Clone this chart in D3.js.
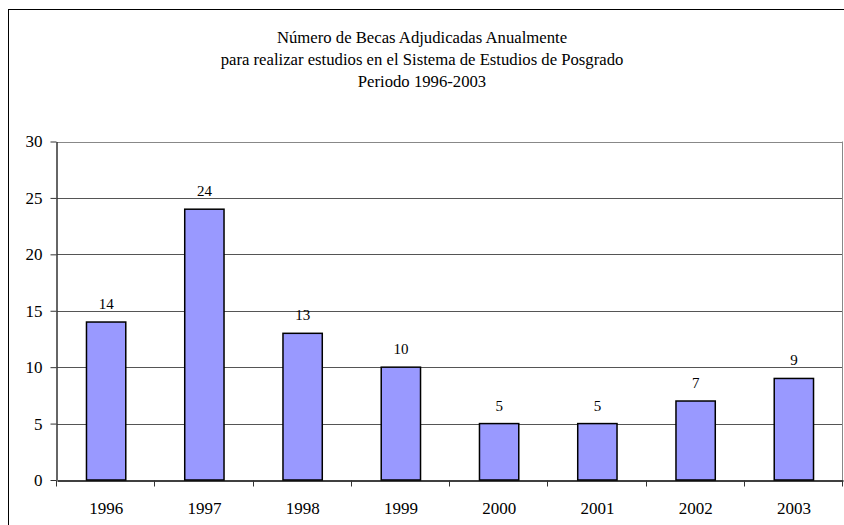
<!DOCTYPE html>
<html>
<head>
<meta charset="utf-8">
<script src="https://cdn.jsdelivr.net/npm/d3@7"></script>
<style>
  body { margin: 0; background: #fff; }
  svg text { font-family: "Liberation Serif", "Times New Roman", serif; fill: #000; }
</style>
</head>
<body>
<div id="chart"></div>
<script>
// Data
const years = ["1996", "1997", "1998", "1999", "2000", "2001", "2002", "2003"];
const becas = [14, 24, 13, 10, 5, 5, 7, 9];
const yTicks = [0, 5, 10, 15, 20, 25, 30];
const titleLines = [
  "Número de Becas Adjudicadas Anualmente",
  "para realizar estudios en el Sistema de Estudios de Posgrado",
  "Periodo 1996-2003"
];

const width = 844;
const height = 525;
const margin = { top: 141.5, right: 1, left: 57, bottom: 45 };
const plotBottom = height - margin.bottom;
const plotRight = width - margin.right;

const svg = d3.select("#chart").append("svg")
  .attr("width", width)
  .attr("height", height);

// outer chart frame (cropped on right and bottom)
svg.append("rect")
  .attr("x", 8.5).attr("y", 9.5)
  .attr("width", 900).attr("height", 600)
  .attr("fill", "none")
  .attr("stroke", "#000")
  .attr("stroke-width", 1);

// title
svg.append("g").selectAll("text")
  .data(titleLines)
  .join("text")
  .attr("x", 422)
  .attr("y", (d, i) => 43 + i * 22)
  .attr("text-anchor", "middle")
  .style("font-size", "16.7px")
  .text(d => d);

const x = d3.scaleBand()
  .domain(years)
  .range([margin.left, plotRight])
  .paddingInner(0.6)
  .paddingOuter(0.3);

const y = d3.scaleLinear()
  .domain([0, 30])
  .range([plotBottom, margin.top]);

// gridlines
svg.append("g")
  .selectAll("line")
  .data(yTicks.filter(d => d > 0))
  .join("line")
  .attr("x1", margin.left).attr("x2", plotRight)
  .attr("y1", d => Math.round(y(d)) + 0.5)
  .attr("y2", d => Math.round(y(d)) + 0.5)
  .attr("stroke", d => d === 30 ? "#888" : "#555")
  .attr("stroke-width", 1);

// right border of plot area
svg.append("line")
  .attr("x1", plotRight - 0.5).attr("x2", plotRight - 0.5)
  .attr("y1", margin.top).attr("y2", plotBottom)
  .attr("stroke", "#888");

// bars
svg.append("g")
  .selectAll("rect")
  .data(years.map((yr, i) => ({ yr, v: becas[i] })))
  .join("rect")
  .attr("x", d => x(d.yr))
  .attr("y", d => y(d.v))
  .attr("width", x.bandwidth())
  .attr("height", d => plotBottom - y(d.v))
  .attr("fill", "#9999FF")
  .attr("stroke", "#000")
  .attr("stroke-width", 1.5);

// value labels
svg.append("g")
  .selectAll("text")
  .data(years.map((yr, i) => ({ yr, v: becas[i] })))
  .join("text")
  .attr("x", d => x(d.yr) + x.bandwidth() / 2)
  .attr("y", d => y(d.v) - 13)
  .attr("text-anchor", "middle")
  .style("font-size", "15px")
  .text(d => d.v);

// y axis
const yAxis = svg.append("g")
  .attr("transform", `translate(${margin.left - 0.5},0)`)
  .call(d3.axisLeft(y).tickValues(yTicks).tickSize(6).tickSizeOuter(0).tickPadding(8));
yAxis.select(".domain").attr("stroke", "#333").attr("stroke-width", 1.5);
yAxis.selectAll(".tick line").attr("stroke", "#333");
yAxis.selectAll(".tick text")
  .style("font-size", "17px")
  .style("font-family", "'Liberation Serif', serif");

// x axis
const xAxis = svg.append("g")
  .attr("transform", `translate(0,${plotBottom + 0.5})`)
  .call(d3.axisBottom(x).tickSize(0).tickSizeOuter(0).tickPadding(21));
xAxis.select(".domain").attr("stroke", "#000").attr("stroke-width", 1.5);
xAxis.selectAll(".tick text")
  .style("font-size", "17px")
  .style("font-family", "'Liberation Serif', serif");

// category boundary ticks
xAxis.append("g")
  .selectAll("line")
  .data(d3.range(years.length + 1))
  .join("line")
  .attr("x1", i => Math.round(margin.left + i * x.step()) - 0.5)
  .attr("x2", i => Math.round(margin.left + i * x.step()) - 0.5)
  .attr("y1", 0).attr("y2", 6)
  .attr("stroke", "#333");
</script>
</body>
</html>
